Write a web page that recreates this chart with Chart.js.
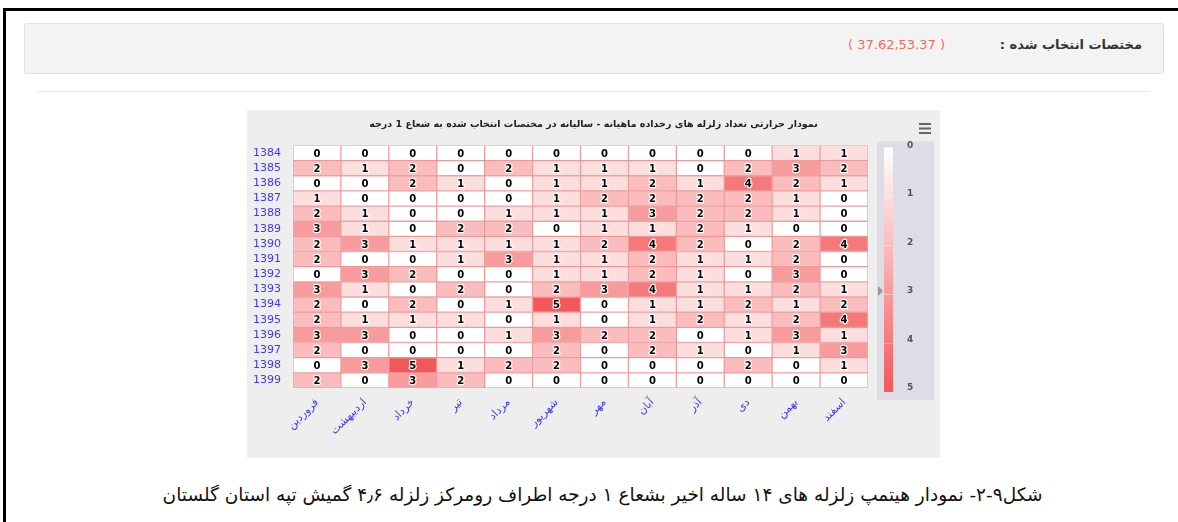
<!DOCTYPE html>
<html>
<head>
<meta charset="utf-8">
<script src="https://cdn.jsdelivr.net/npm/chart.js@4/dist/chart.umd.min.js"></script>
<style>
  body { margin: 0; width: 1178px; height: 522px; background: #fff; position: relative; overflow: hidden; font-family: "DejaVu Sans", sans-serif; }
  .frame { position: absolute; left: 3px; top: 8px; right: 0; bottom: 0; border-top: 3px solid #000; border-left: 3px solid #000; }
  .panel { position: absolute; left: 24px; top: 23px; width: 1138px; height: 49px; background: #f3f3f3; border: 1px solid #e2e2e2; border-radius: 3px; }
  .lbl { position: absolute; right: 36px; top: 37px; font-size: 13px; font-weight: bold; color: #333; direction: rtl; }
  .coord { position: absolute; right: 233px; top: 37px; font-size: 13px; color: #f36a62; }
  .sep { position: absolute; left: 37px; top: 91px; width: 1113px; height: 1px; background: #e8e8e8; }
  .box { position: absolute; left: 247px; top: 110px; width: 693px; height: 348px; background: #eeeeee; }
  .caption { position: absolute; left: 140px; top: 484px; width: 925px; text-align: center; font-size: 18.5px; color: #111; direction: rtl; }
</style>
</head>
<body>
<div class="frame"></div>
<div class="panel"></div>
<div class="lbl">مختصات انتخاب شده :</div>
<div class="coord">( 37.62,53.37 )</div>
<div class="sep"></div>
<div class="box"><canvas id="heat" dir="rtl" width="693" height="348"></canvas></div>
<div class="caption">شکل۹-۲- نمودار هیتمپ زلزله های ۱۴ ساله اخیر بشعاع ۱ درجه اطراف رومرکز زلزله ۴٫۶ گمیش تپه استان گلستان</div>

<script>
// months (columns) and years (rows)
const months = ['فروردین', 'اردیبهشت', 'خرداد', 'تیر', 'مرداد', 'شهریور', 'مهر', 'آبان', 'آذر', 'دی', 'بهمن', 'اسفند'];
const years = ['1384', '1385', '1386', '1387', '1388', '1389', '1390', '1391',
               '1392', '1393', '1394', '1395', '1396', '1397', '1398', '1399'];

// earthquake counts, one row per year
const y1384 = [0, 0, 0, 0, 0, 0, 0, 0, 0, 0, 1, 1];
const y1385 = [2, 1, 2, 0, 2, 1, 1, 1, 0, 2, 3, 2];
const y1386 = [0, 0, 2, 1, 0, 1, 1, 2, 1, 4, 2, 1];
const y1387 = [1, 0, 0, 0, 0, 1, 2, 2, 2, 2, 1, 0];
const y1388 = [2, 1, 0, 0, 1, 1, 1, 3, 2, 2, 1, 0];
const y1389 = [3, 1, 0, 2, 2, 0, 1, 1, 2, 1, 0, 0];
const y1390 = [2, 3, 1, 1, 1, 1, 2, 4, 2, 0, 2, 4];
const y1391 = [2, 0, 0, 1, 3, 1, 1, 2, 1, 1, 2, 0];
const y1392 = [0, 3, 2, 0, 0, 1, 1, 2, 1, 0, 3, 0];
const y1393 = [3, 1, 0, 2, 0, 2, 3, 4, 1, 1, 2, 1];
const y1394 = [2, 0, 2, 0, 1, 5, 0, 1, 1, 2, 1, 2];
const y1395 = [2, 1, 1, 1, 0, 1, 0, 1, 2, 1, 2, 4];
const y1396 = [3, 3, 0, 0, 1, 3, 2, 2, 0, 1, 3, 1];
const y1397 = [2, 0, 0, 0, 0, 2, 0, 2, 1, 0, 1, 3];
const y1398 = [0, 3, 5, 1, 2, 2, 0, 0, 0, 2, 0, 1];
const y1399 = [2, 0, 3, 2, 0, 0, 0, 0, 0, 0, 0, 0];
const rows = [y1384, y1385, y1386, y1387, y1388, y1389, y1390, y1391,
              y1392, y1393, y1394, y1395, y1396, y1397, y1398, y1399];

const colorTicks = [0, 1, 2, 3, 4, 5];
const minVal = 0, maxVal = 5;
const minColor = [255, 255, 255];
const maxColor = [242, 88, 90];

function heatColor(v) {
    const t = (v - minVal) / (maxVal - minVal);
    const c = minColor.map((m, i) => Math.round(m + (maxColor[i] - m) * t));
    return 'rgb(' + c.join(',') + ')';
}

const blue = '#3b3bf5';

// each year is a dataset of floating bars spanning its row
const datasets = rows.map((vals, i) => ({
    label: years[i],
    data: vals.map(() => [i - 0.5, i + 0.5]),
    counts: vals,
    backgroundColor: vals.map(heatColor),
    borderColor: 'rgba(236,120,120,0.6)',
    borderWidth: 1,
    borderSkipped: false,
    grouped: false,
    categoryPercentage: 1,
    barPercentage: 1
}));

// value labels in every cell
const cellLabels = {
    id: 'cellLabels',
    afterDatasetsDraw(chart) {
        const ctx = chart.ctx;
        ctx.save();
        ctx.font = 'bold 10px "DejaVu Sans"';
        ctx.textAlign = 'center';
        ctx.textBaseline = 'middle';
        ctx.lineJoin = 'round';
        chart.data.datasets.forEach((ds, di) => {
            chart.getDatasetMeta(di).data.forEach((el, j) => {
                const y = (el.y + el.base) / 2;
                const txt = String(ds.counts[j]);
                ctx.strokeStyle = 'rgba(255,255,255,0.9)';
                ctx.lineWidth = 2.5;
                ctx.strokeText(txt, el.x, y + 1);
                ctx.fillStyle = '#000';
                ctx.fillText(txt, el.x, y + 1);
            });
        });
        ctx.restore();
    }
};

// color axis legend box + gradient, and the menu button
const colorLegend = {
    id: 'colorLegend',
    beforeDraw(chart) {
        const s = chart.scales.c;
        const ctx = chart.ctx;
        const top = s.getPixelForValue(minVal) + 2;
        const bottom = s.getPixelForValue(maxVal) + 4;
        ctx.save();
        ctx.fillStyle = '#dcdde5';
        ctx.fillRect(s.left + 9, top - 6, 57, bottom - top + 14);
        const g = ctx.createLinearGradient(0, top, 0, bottom);
        g.addColorStop(0, heatColor(minVal));
        g.addColorStop(1, heatColor(maxVal));
        ctx.fillStyle = g;
        ctx.fillRect(s.left + 16, top, 9, bottom - top);
        ctx.strokeStyle = 'rgba(255,255,255,0.45)';
        ctx.lineWidth = 1;
        colorTicks.slice(1, -1).forEach(v => {
            const py = Math.round(top + (bottom - top) * (v - minVal) / (maxVal - minVal)) + 0.5;
            ctx.beginPath();
            ctx.moveTo(s.left + 16, py);
            ctx.lineTo(s.left + 25, py);
            ctx.stroke();
        });
        // hover marker
        const my = s.getPixelForValue(3);
        ctx.fillStyle = '#999';
        ctx.beginPath();
        ctx.moveTo(s.left + 10, my - 5);
        ctx.lineTo(s.left + 15, my);
        ctx.lineTo(s.left + 10, my + 5);
        ctx.closePath();
        ctx.fill();
        // menu icon
        ctx.strokeStyle = '#666';
        ctx.lineWidth = 2;
        [14, 18.5, 23].forEach(y => {
            ctx.beginPath();
            ctx.moveTo(672, y);
            ctx.lineTo(684, y);
            ctx.stroke();
        });
        ctx.restore();
    }
};

new Chart(document.getElementById('heat'), {
    type: 'bar',
    data: { labels: months, datasets: datasets },
    options: {
        responsive: false,
        animation: false,
        layout: { padding: 0 },
        plugins: {
            legend: { display: false },
            tooltip: { enabled: false },
            title: {
                display: true,
                text: 'نمودار حرارتی تعداد زلزله های رخداده ماهیانه - سالیانه در مختصات انتخاب شده به شعاع 1 درجه',
                color: '#222',
                font: { family: 'DejaVu Sans', size: 9.5, weight: 'bold' },
                padding: { top: 9, bottom: 15 }
            }
        },
        scales: {
            x: {
                type: 'category',
                grid: { display: false },
                border: { display: false },
                ticks: {
                    color: blue,
                    font: { family: 'DejaVu Sans', size: 11 },
                    minRotation: 45,
                    maxRotation: 45,
                    padding: 0
                },
                afterFit(scale) { scale.height = 70; }
            },
            y: {
                type: 'linear',
                reverse: true,
                min: -0.5,
                max: years.length - 0.5,
                grid: { display: false },
                border: { display: false },
                afterBuildTicks(scale) { scale.ticks = years.map((_, i) => ({ value: i })); },
                ticks: {
                    color: blue,
                    font: { family: 'DejaVu Sans', size: 11 },
                    padding: 4,
                    autoSkip: false,
                    callback: (v) => years[v]
                },
                afterFit(scale) { scale.width = 46; }
            },
            c: {
                type: 'linear',
                position: 'right',
                reverse: true,
                min: minVal,
                max: maxVal,
                grid: { display: true, drawOnChartArea: false, drawTicks: true, tickLength: 37, color: 'rgba(0,0,0,0)' },
                border: { display: false },
                afterBuildTicks(scale) { scale.ticks = colorTicks.map(v => ({ value: v })); },
                ticks: {
                    color: '#555',
                    font: { family: 'DejaVu Sans', size: 9, weight: 'bold' },
                    padding: 2,
                    autoSkip: false
                },
                afterFit(scale) { scale.width = 72; }
            }
        }
    },
    plugins: [cellLabels, colorLegend]
});
</script>
</body>
</html>
